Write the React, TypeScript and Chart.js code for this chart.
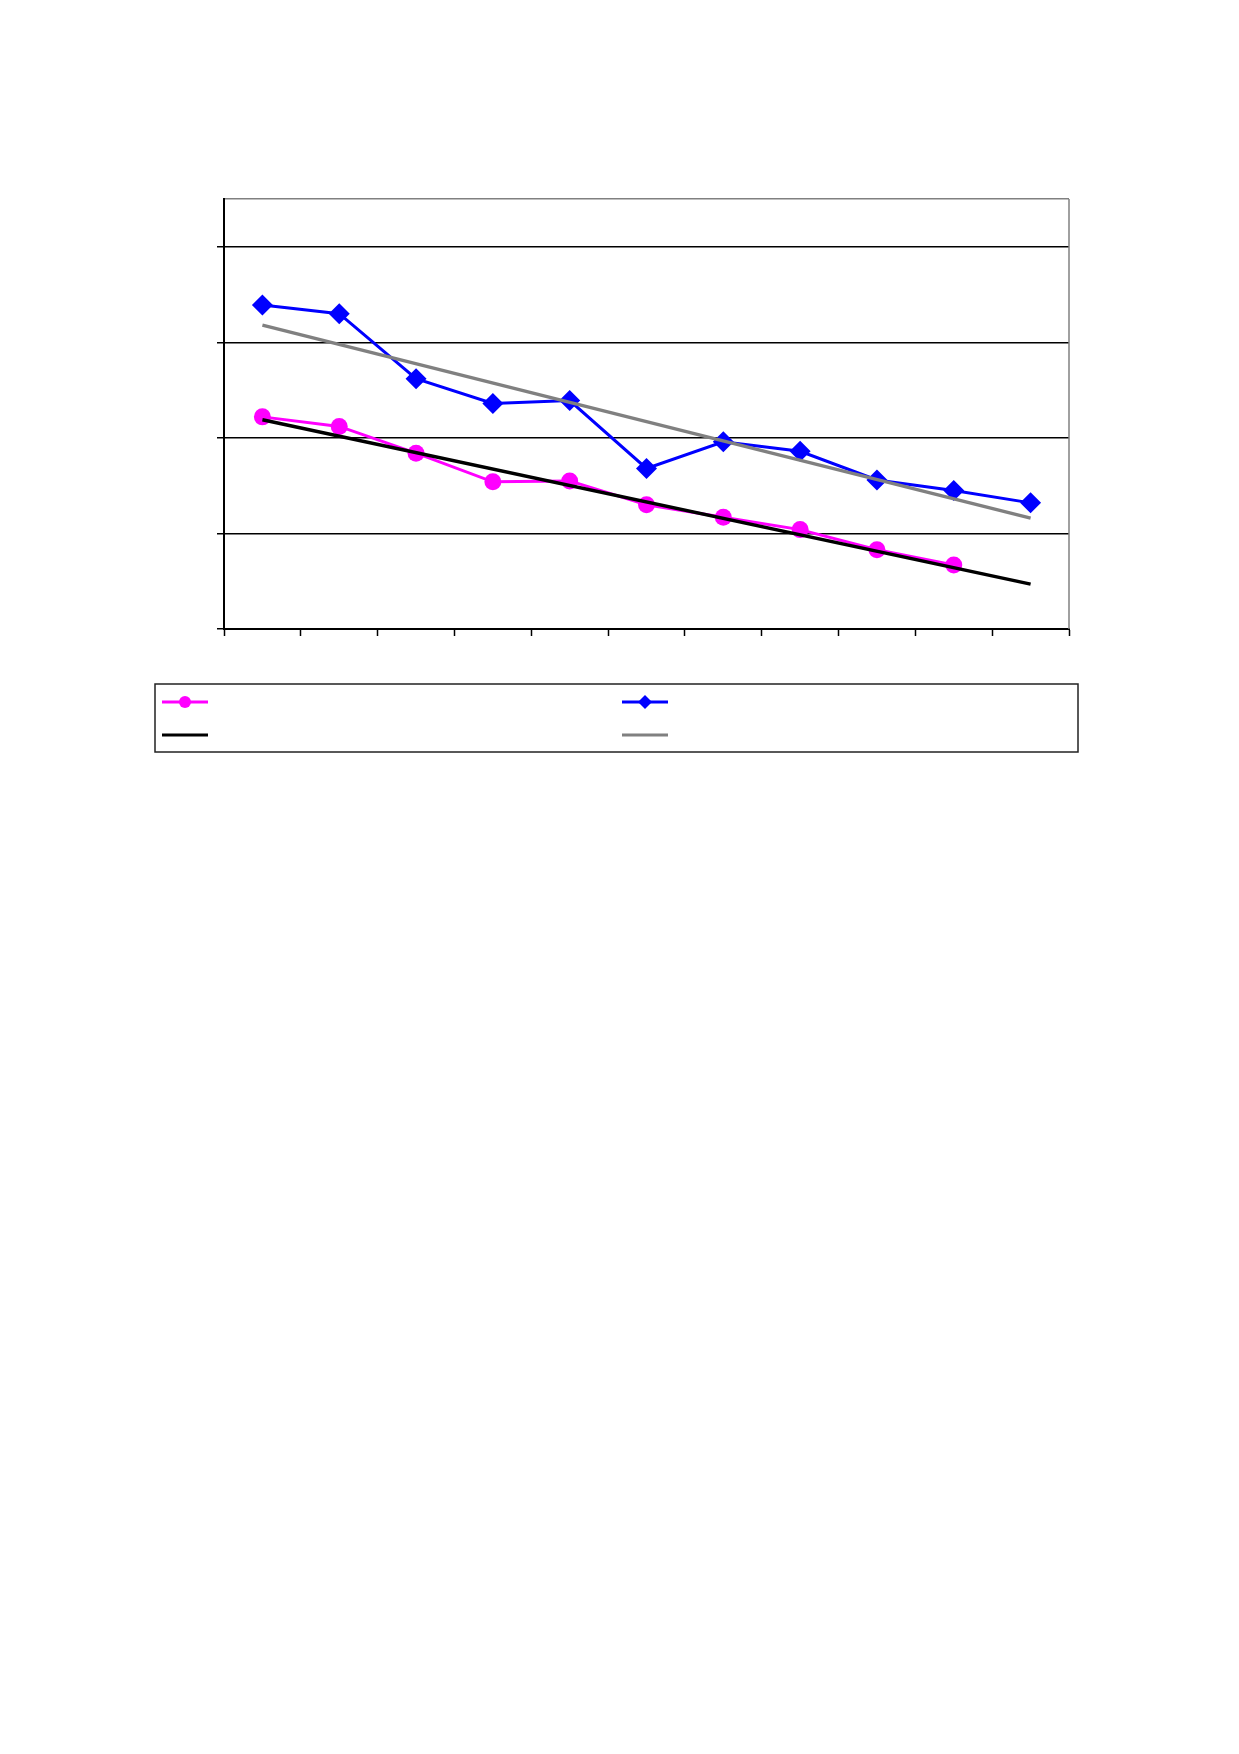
import { useRef, useEffect } from "react";
import { Chart, registerables } from "chart.js";

Chart.register(...registerables);

// 11 categories, no visible labels in the source picture
const categories = ["", "", "", "", "", "", "", "", "", "", ""];
const pinkValues = [2.22, 2.12, 1.84, 1.54, 1.55, 1.3, 1.17, 1.04, 0.83, 0.67, null];
const blueValues = [3.39, 3.3, 2.62, 2.36, 2.39, 1.68, 1.96, 1.86, 1.56, 1.45, 1.32];
// linear trend lines: only the end points are given
const pinkTrend = [2.19, null, null, null, null, null, null, null, null, null, 0.47];
const blueTrend = [3.18, null, null, null, null, null, null, null, null, null, 1.16];
const yMax = 4.5;

const frame = {
  id: "frame",
  beforeDatasetsDraw(chart: any) {
    const { ctx, chartArea } = chart;
    ctx.save();
    ctx.strokeStyle = "#808080";
    ctx.lineWidth = 1.5;
    ctx.beginPath();
    ctx.moveTo(chartArea.right, chartArea.top);
    ctx.lineTo(chartArea.right, chartArea.bottom);
    ctx.stroke();
    ctx.restore();
  },
  afterDraw(chart: any) {
    const ctx = chart.ctx;
    ctx.save();
    // legend box
    ctx.strokeStyle = "#222";
    ctx.lineWidth = 1.5;
    ctx.strokeRect(147, 676, 923, 68);

    const sample = (x: number, y: number, color: string, marker: string | null) => {
      ctx.strokeStyle = color;
      ctx.lineWidth = 3;
      ctx.beginPath();
      ctx.moveTo(x, y);
      ctx.lineTo(x + 46, y);
      ctx.stroke();
      ctx.fillStyle = color;
      const cx = x + 23;
      if (marker === "circle") {
        ctx.beginPath();
        ctx.arc(cx, y, 6, 0, Math.PI * 2);
        ctx.fill();
      } else if (marker === "diamond") {
        ctx.beginPath();
        ctx.moveTo(cx, y - 7);
        ctx.lineTo(cx + 7, y);
        ctx.lineTo(cx, y + 7);
        ctx.lineTo(cx - 7, y);
        ctx.closePath();
        ctx.fill();
      }
    };
    sample(154, 694, "#FF00FF", "circle");
    sample(614, 694, "#0000FF", "diamond");
    sample(154, 727, "#000000", null);
    sample(614, 727, "#808080", null);
    ctx.restore();
  },
};

function ChartComponent() {
  const canvasRef = useRef<HTMLCanvasElement | null>(null);
  const chartRef = useRef<Chart | null>(null);

  useEffect(() => {
    if (!canvasRef.current) return;
    if (chartRef.current) chartRef.current.destroy();

    const ctx = canvasRef.current.getContext("2d");
    if (!ctx) return;

    chartRef.current = new Chart(ctx, {
      type: "line",
      data: {
        labels: categories,
        datasets: [
          {
            data: pinkTrend,
            borderColor: "#000000",
            borderWidth: 3.5,
            pointRadius: 0,
            spanGaps: true,
            order: 0,
          },
          {
            data: blueTrend,
            borderColor: "#808080",
            borderWidth: 3.5,
            pointRadius: 0,
            spanGaps: true,
            order: 0,
          },
          {
            data: pinkValues,
            borderColor: "#FF00FF",
            backgroundColor: "#FF00FF",
            borderWidth: 3,
            pointStyle: "circle",
            pointRadius: 8.5,
            pointBorderWidth: 0,
            order: 1,
          },
          {
            data: blueValues,
            borderColor: "#0000FF",
            backgroundColor: "#0000FF",
            borderWidth: 3,
            pointStyle: "rectRot",
            pointRadius: 10.5,
            pointBorderWidth: 0,
            order: 1,
          },
        ],
      },
      options: {
        responsive: false,
        animation: false,
        layout: { padding: { left: 196, right: 162, top: 191, bottom: 159 } },
        plugins: {
          legend: { display: false },
          tooltip: { enabled: false },
        },
        scales: {
          x: {
            offset: true,
            grid: {
              offset: true,
              drawOnChartArea: false,
              drawTicks: true,
              tickLength: 7,
              tickColor: "#000",
              tickWidth: 1.5,
            },
            border: { color: "#000", width: 2 },
            ticks: { display: false },
            afterFit: (s: any) => {
              s.height = 20;
            },
          },
          y: {
            min: 0,
            max: yMax,
            ticks: { display: false, stepSize: 1 },
            grid: {
              color: (c: any) => (c.tick && c.tick.value === yMax ? "#808080" : "#000"),
              tickColor: (c: any) =>
                c.tick && c.tick.value === yMax ? "rgba(0,0,0,0)" : "#000",
              lineWidth: 1.5,
              tickLength: 7,
            },
            border: { color: "#000", width: 2 },
            afterFit: (s: any) => {
              s.width = 20;
            },
          },
        },
      },
      plugins: [frame],
    });

    return () => {
      if (chartRef.current) chartRef.current.destroy();
    };
  }, []);

  return (
    <div style={{ width: 1223, height: 800 }}>
      <canvas ref={canvasRef} width={1223} height={800} />
    </div>
  );
}

export default function App() {
  return <ChartComponent />;
}
